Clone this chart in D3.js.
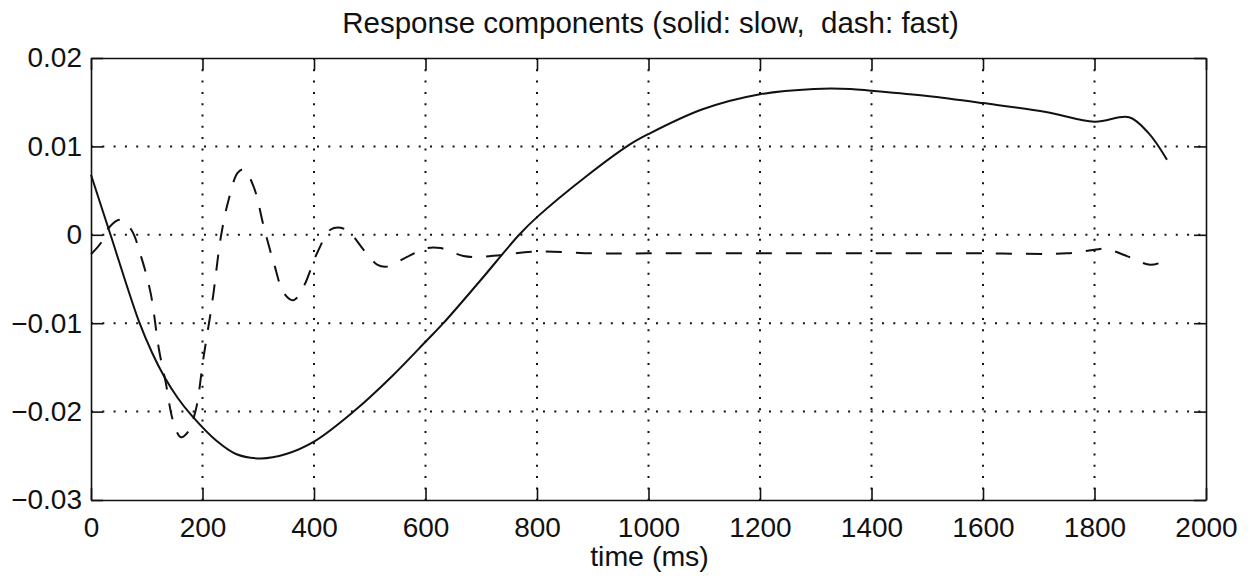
<!DOCTYPE html>
<html lang="en">
<head>
    <meta charset="UTF-8">
    <title>Response components</title>
    <script src="https://d3js.org/d3.v7.min.js"></script>
    <style>
        body { margin: 0; background: #fff; }
        svg { display: block; }
        text { font-family: "Liberation Sans", Arial, Helvetica, sans-serif; fill: #111; }
        .axis text { font-size: 28px; }
        .axis line, .axis path { stroke: #111; stroke-width: 1.6px; }
        .grid line { stroke: #111; stroke-width: 2px; stroke-dasharray: 2,9.3; }
        .line { fill: none; stroke: #111; stroke-width: 2px; }
        .fast-line { stroke-dasharray: 16,14; }
        .title { font-size: 29.5px; white-space: pre; }
        .xlabel { font-size: 28.5px; }
    </style>
</head>
<body>
    <svg width="1248" height="578"></svg>

    <script>
        // slow component (solid)
        const slowTime = [0, 35, 86, 110, 131, 155, 180, 225, 260, 305, 350, 400, 471, 540, 603, 632, 698, 768, 800, 888, 966, 1000,
            1097, 1200, 1297, 1362, 1400, 1500, 1600, 1713, 1800, 1862, 1897, 1930];
        const slowValue = [0.0068, 0.0, -0.0098, -0.0134, -0.0160, -0.0184, -0.0204, -0.0233, -0.0248, -0.0253, -0.0248, -0.0234, -0.0200,
            -0.0160, -0.0119, -0.0100, -0.0052, 0.0, 0.0020, 0.0066, 0.0102, 0.0114,
            0.0142, 0.0159, 0.0165, 0.0165, 0.0163, 0.0157, 0.0149, 0.0139, 0.0128, 0.0133, 0.0115, 0.0085];

        // fast component (dashed)
        const fastTime = [0, 18, 32, 52, 72, 90, 107, 122, 134, 147, 161, 174, 188, 202, 218, 233, 247, 263, 274, 292,
            310, 328, 346, 363, 381, 406, 430, 448, 465, 489, 514, 531, 567, 603, 627, 668, 698, 734, 800, 900,
            1000, 1200, 1400, 1600, 1750, 1800, 1820, 1862, 1900, 1925];
        const fastValue = [-0.0022, -0.0009, 0.0008, 0.0017, 0.0006, -0.0025, -0.0066, -0.0130, -0.0167, -0.0210,
            -0.0229, -0.0223, -0.0198, -0.0138, -0.0074, -0.0002, 0.0040, 0.0070, 0.0074, 0.0054,
            0.0009, -0.0032, -0.0066, -0.0074, -0.0059, -0.0020, 0.0006, 0.0008, 0.0002, -0.0017,
            -0.0034, -0.0036, -0.0025, -0.0015, -0.0015, -0.0024, -0.0025, -0.0023, -0.0019, -0.0021,
            -0.0021, -0.0021, -0.0021, -0.0021, -0.0021, -0.0017, -0.0016, -0.0025, -0.0034, -0.0030];

        const xTicks = [0, 200, 400, 600, 800, 1000, 1200, 1400, 1600, 1800, 2000];
        const yTicks = [-0.03, -0.02, -0.01, 0, 0.01, 0.02];

        const titleText = "Response components (solid: slow,  dash: fast)";
        const xLabelText = "time (ms)";

        const margin = { top: 58, right: 42, bottom: 78, left: 91 };
        const width = 1248 - margin.left - margin.right;
        const height = 578 - margin.top - margin.bottom;

        const svg = d3.select("svg")
            .append("g")
            .attr("transform", `translate(${margin.left},${margin.top})`);

        const x = d3.scaleLinear().domain([0, 2000]).range([0, width]);
        const y = d3.scaleLinear().domain([-0.03, 0.02]).range([height, 0]);

        // dotted grid
        const grid = svg.append("g").attr("class", "grid");
        grid.selectAll(".vgrid")
            .data(xTicks.slice(1, -1))
            .join("line")
            .attr("x1", d => x(d)).attr("x2", d => x(d))
            .attr("y1", 0).attr("y2", height);
        grid.selectAll(".hgrid")
            .data(yTicks.slice(1, -1))
            .join("line")
            .attr("x1", 0).attr("x2", width)
            .attr("y1", d => y(d)).attr("y2", d => y(d));

        const yFormat = d => d === 0 ? "0" : d3.format(".2f")(d);

        // axes with inward ticks on all four sides
        svg.append("g")
            .attr("class", "axis")
            .attr("transform", `translate(0,${height})`)
            .call(d3.axisBottom(x).tickValues(xTicks).tickFormat(d3.format("d"))
                .tickSize(-12).tickSizeOuter(0).tickPadding(17));

        svg.append("g")
            .attr("class", "axis")
            .call(d3.axisLeft(y).tickValues(yTicks).tickFormat(yFormat).tickSize(-12).tickSizeOuter(0).tickPadding(9));

        svg.append("g")
            .attr("class", "axis")
            .call(d3.axisTop(x).tickValues(xTicks).tickFormat("").tickSize(-12).tickSizeOuter(0));

        svg.append("g")
            .attr("class", "axis")
            .attr("transform", `translate(${width},0)`)
            .call(d3.axisRight(y).tickValues(yTicks).tickFormat("").tickSize(-12).tickSizeOuter(0));

        const slowData = slowTime.map((t, i) => ({ t: t, v: slowValue[i] }));
        const fastData = fastTime.map((t, i) => ({ t: t, v: fastValue[i] }));

        const line = d3.line()
            .x(d => x(d.t))
            .y(d => y(d.v))
            .curve(d3.curveCatmullRom.alpha(0.5));

        svg.append("path")
            .datum(fastData)
            .attr("class", "line fast-line")
            .attr("d", line);

        svg.append("path")
            .datum(slowData)
            .attr("class", "line slow-line")
            .attr("d", line);

        svg.append("text")
            .attr("class", "title")
            .attr("x", width / 2 + 2)
            .attr("y", -25)
            .attr("text-anchor", "middle")
            .text(titleText);

        svg.append("text")
            .attr("class", "xlabel")
            .attr("x", width / 2 + 1)
            .attr("y", height + 66)
            .attr("text-anchor", "middle")
            .text(xLabelText);
    </script>
</body>
</html>
